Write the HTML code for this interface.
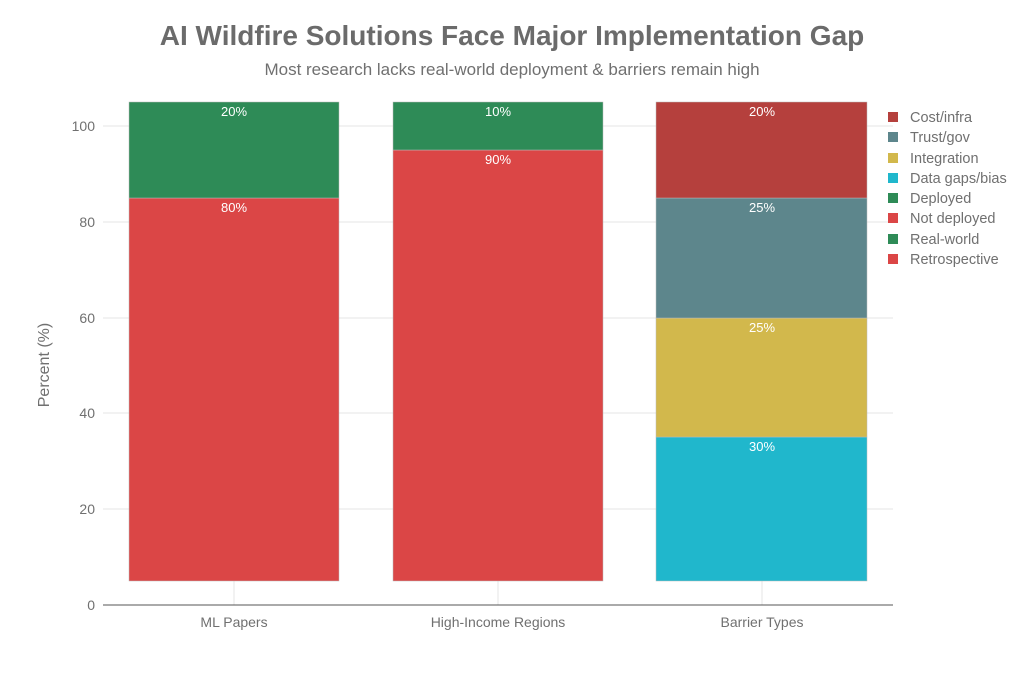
<!DOCTYPE html>
<html><head><meta charset="utf-8"><style>
body{margin:0;background:#fff}
text{font-family:"Liberation Sans",sans-serif}
</style></head><body>
<svg width="1023" height="682" xmlns="http://www.w3.org/2000/svg">
<rect width="1023" height="682" fill="#fff"/>
<text x="512" y="45" text-anchor="middle" font-size="28" font-weight="bold" fill="#6b6b6b">AI Wildfire Solutions Face Major Implementation Gap</text>
<text x="512" y="75" text-anchor="middle" font-size="17" fill="#707070">Most research lacks real-world deployment &amp; barriers remain high</text>
<g stroke="#e4e4e4" stroke-width="1">
<line x1="103" x2="893" y1="509" y2="509"/><line x1="103" x2="893" y1="413" y2="413"/>
<line x1="103" x2="893" y1="318" y2="318"/><line x1="103" x2="893" y1="222" y2="222"/>
<line x1="103" x2="893" y1="126" y2="126"/>
<line x1="234" x2="234" y1="581" y2="605"/><line x1="498" x2="498" y1="581" y2="605"/><line x1="762" x2="762" y1="581" y2="605"/>
</g>
<line x1="103" x2="893" y1="605" y2="605" stroke="#555"/>
<g font-size="14" fill="#707070" text-anchor="end">
<text x="95" y="610">0</text><text x="95" y="514">20</text><text x="95" y="418">40</text>
<text x="95" y="323">60</text><text x="95" y="227">80</text><text x="95" y="131">100</text>
</g>
<text transform="translate(49,365) rotate(-90)" text-anchor="middle" font-size="16" fill="#707070">Percent (%)</text>
<g font-size="14" fill="#707070" text-anchor="middle">
<text x="234" y="627">ML Papers</text><text x="498" y="627">High-Income Regions</text><text x="762" y="627">Barrier Types</text>
</g>
<g stroke="#bbb" stroke-width="0.5">
<rect x="129" y="198" width="210" height="383" fill="#db4646"/>
<rect x="129" y="102" width="210" height="96" fill="#2e8b57"/>
<rect x="393" y="150" width="210" height="431" fill="#db4646"/>
<rect x="393" y="102" width="210" height="48" fill="#2e8b57"/>
<rect x="656" y="437" width="211" height="144" fill="#20b7cc"/>
<rect x="656" y="318" width="211" height="119" fill="#d2b84c"/>
<rect x="656" y="198" width="211" height="120" fill="#5d868c"/>
<rect x="656" y="102" width="211" height="96" fill="#b5403d"/>
</g>
<g font-size="13" fill="#fff" text-anchor="middle">
<text x="234" y="116">20%</text><text x="234" y="212">80%</text>
<text x="498" y="116">10%</text><text x="498" y="164">90%</text>
<text x="762" y="116">20%</text><text x="762" y="212">25%</text>
<text x="762" y="332">25%</text><text x="762" y="451">30%</text>
</g>
<g font-size="14.5" fill="#707070">
<rect x="888" y="112" width="10" height="10" fill="#b5403d"/><text x="910" y="122">Cost/infra</text>
<rect x="888" y="132" width="10" height="10" fill="#5d868c"/><text x="910" y="142">Trust/gov</text>
<rect x="888" y="153" width="10" height="10" fill="#d2b84c"/><text x="910" y="163">Integration</text>
<rect x="888" y="173" width="10" height="10" fill="#20b7cc"/><text x="910" y="183">Data gaps/bias</text>
<rect x="888" y="193" width="10" height="10" fill="#2e8b57"/><text x="910" y="203">Deployed</text>
<rect x="888" y="213" width="10" height="10" fill="#db4646"/><text x="910" y="223">Not deployed</text>
<rect x="888" y="234" width="10" height="10" fill="#2e8b57"/><text x="910" y="244">Real-world</text>
<rect x="888" y="254" width="10" height="10" fill="#db4646"/><text x="910" y="264">Retrospective</text>
</g>
</svg>
</body></html>
